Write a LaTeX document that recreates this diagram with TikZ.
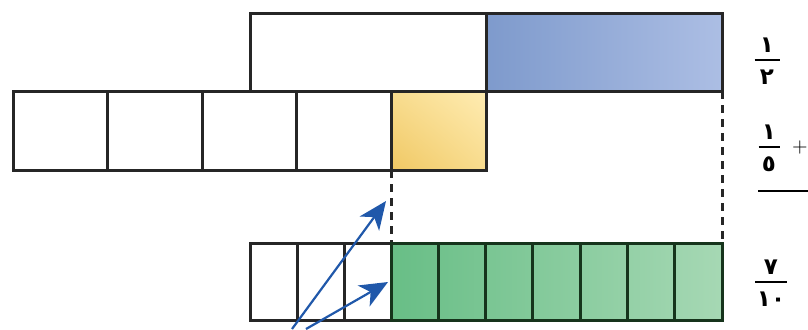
\documentclass[tikz,border=0pt]{standalone}
\usepackage{fontspec}
\usetikzlibrary{calc,arrows.meta,shadings}
\newfontfamily\arabicfont[Script=Arabic]{DejaVu Sans}
\definecolor{halfblueA}{RGB}{126,154,204}
\definecolor{halfblueB}{RGB}{172,190,228}
\definecolor{fifthyelA}{RGB}{240,200,100}
\definecolor{fifthyelB}{RGB}{255,236,178}
\definecolor{fifthyelM}{RGB}{248,220,142}
\definecolor{sumgreenA}{RGB}{104,190,134}
\definecolor{sumgreenB}{RGB}{166,216,180}
\definecolor{sumgreenline}{RGB}{22,52,28}
\definecolor{arrowblue}{RGB}{32,88,170}
\newcommand{\makefrac}[6]{
	\draw[line width=0.9pt] ($(#2,#3)+(-#6,0)$) -- ($(#2,#3)+(#6,0)$);
	\node[digit] (#1num) at ($(#2,#3)+(0,-15)$) {#4};
	\node[digit] (#1den) at ($(#2,#3)+(0,17)$) {#5};
}

\begin{document}
\begin{tikzpicture}[x=0.5pt,y=-0.5pt,
	bar/.style={draw=black!85, line width=1.5pt},
	guide/.style={draw=black!85, line width=1.5pt, dash pattern=on 4pt off 3pt},
	pointer/.style={draw=arrowblue, line width=1.1pt, -{Stealth[length=14pt,width=12pt,inset=4pt]}},
	digit/.style={font=\arabicfont\bfseries\fontsize{11.5}{13}\selectfont, inner sep=0pt}]
	\useasboundingbox (0,0) rectangle (808,329);

	\coordinate (H0) at (250,13);
	\coordinate (H1) at (486,91);
	\coordinate (H2) at (722,13);
	\coordinate (F0) at (13,91);
	\coordinate (F4) at (391,91);
	\coordinate (F5) at (486,170);
	\coordinate (S0) at (250,243);
	\coordinate (S3) at (391,243);
	\coordinate (S10) at (722,320);

	% colours
	\shade[left color=halfblueA, right color=halfblueB] (H1) rectangle (H2);
	\shade[lower left=fifthyelA, upper right=fifthyelB, upper left=fifthyelM, lower right=fifthyelM] (F4) rectangle (F5);
	\shade[left color=sumgreenA, right color=sumgreenB] (S3) rectangle (S10);

	% guides
	\draw[guide] (F4 |- F5) -- (S3);
	\draw[guide] (H2 |- H1) -- (S10 |- S3);

	% bars
	\draw[bar] (H0) rectangle (H1 -| H2);
	\draw[bar] (H0 -| H1) -- (H1);
	\draw[bar] (F0) rectangle (F5);
	\foreach \i in {1,...,4}
		\draw[bar] ($(F0)+(\i*94.6,0)$) -- ++(0,79);
	\draw[bar] (S0) rectangle (S3 |- S10);
	\foreach \i in {1,2}
		\draw[bar] ($(S0)+(\i*47.1,0)$) -- ++(0,77);
	\draw[bar, draw=sumgreenline] (S3) rectangle (S10);
	\foreach \i in {1,...,6}
		\draw[bar, draw=sumgreenline] ($(S3)+(\i*47.3,0)$) -- ++(0,77);

	% pointers
	\coordinate (P1) at (292,329);
	\coordinate (P2) at (306,329);
	\coordinate (Q1) at (386,201);
	\coordinate (Q2) at (388,282);
	\draw[pointer] (P1) -- (Q1);
	\draw[pointer] (P2) -- (Q2);

	% fractions
	\makefrac{half}{767}{60}{١}{٢}{12.5}
	\makefrac{fifth}{769}{147}{١}{٥}{10.5}
	\makefrac{sum}{771}{282}{٧}{١٠}{16}
	\node (plus) at (800,147) {+};
	\draw[line width=0.9pt] (758,191) -- (808,191);
\end{tikzpicture}
\end{document}
